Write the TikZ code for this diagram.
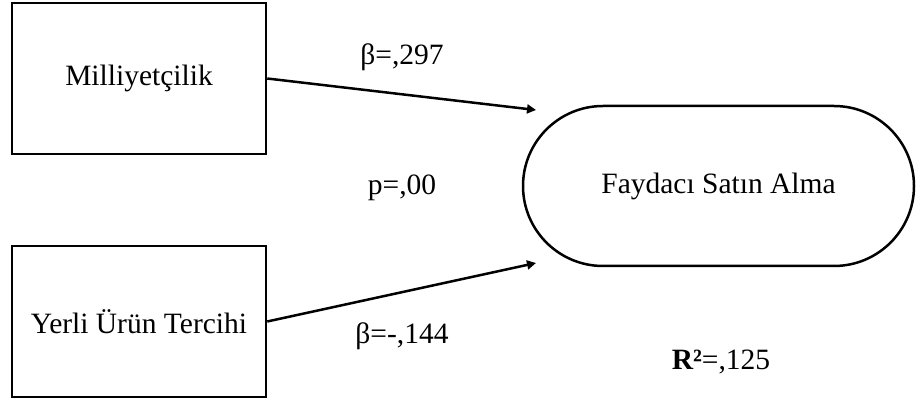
\documentclass[tikz,border=0pt]{standalone}
\usepackage{fontspec}
\setmainfont{Liberation Serif}
\usetikzlibrary{arrows.meta}
\tikzset{
  txt/.style={font=\fontsize{29.5}{34}\selectfont, inner sep=0pt},
  box/.style={txt, draw, line width=2.5pt, minimum width=254pt, minimum height=151pt},
  outcome/.style={txt, draw, line width=2.5pt, rounded corners=80pt, minimum width=391pt, minimum height=160pt},
  path/.style={line width=2.5pt, -{Triangle[length=9pt,width=9pt]}}
}
\begin{document}
\begin{tikzpicture}[x=1pt,y=-1pt]
  \useasboundingbox (0,0) rectangle (916,403);
  \fill[white] (0,0) rectangle (916,403);
  % predictors
  \node[box] (mil) at (139,78.5) {Milliyetçilik};
  \node[box] (yer) at (139,321.5) {Yerli Ürün Tercihi};
  % outcome
  \node[outcome] (fay) at (718.5,186) {Faydacı Satın Alma};
  % arrow ends
  \coordinate (t1) at (536,110);
  \coordinate (t2) at (536,263);
  \draw[path] (mil.east) -- (t1);
  \draw[path] (yer.east) -- (t2);
  % coefficients
  \node[txt] (b1) at (402,57) {β=,297};
  \node[txt] (p) at (402,188) {p=,00};
  \node[txt] (b2) at (402,336) {β=-,144};
  \node[txt] (r2) at (721,362) {\textbf{R²}=,125};
\end{tikzpicture}
\end{document}
